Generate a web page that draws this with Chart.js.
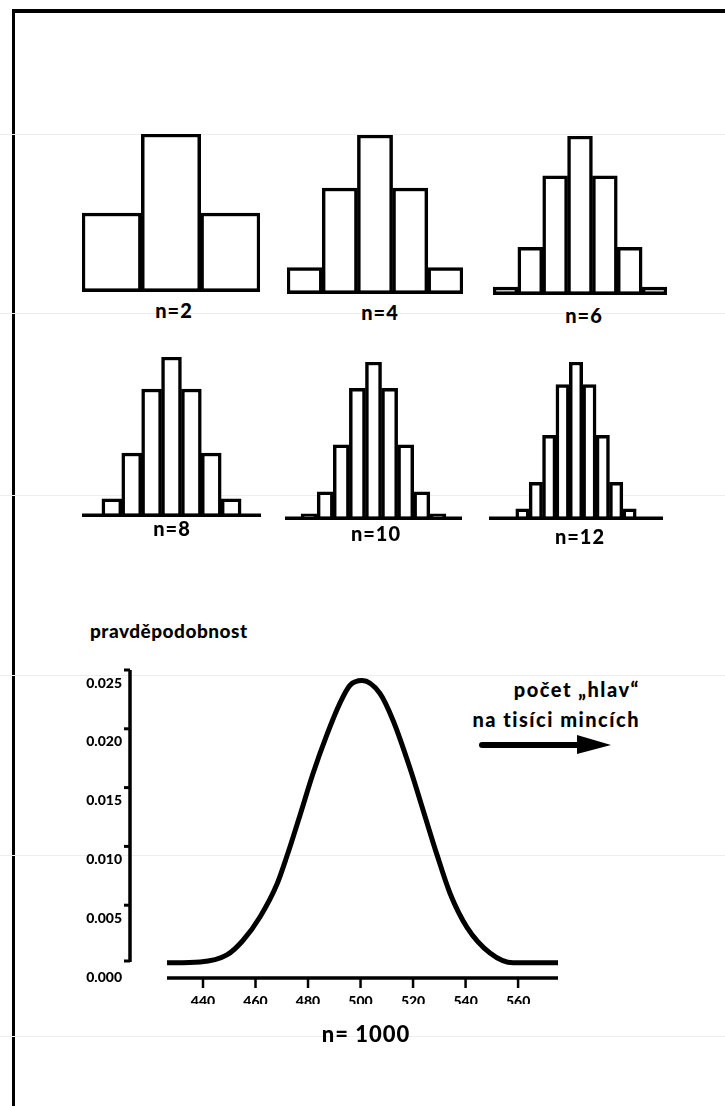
<!DOCTYPE html>
<html>
<head>
<meta charset="utf-8">
<script src="https://cdn.jsdelivr.net/npm/chart.js@4"></script>
<style>
    html, body { margin: 0; padding: 0; background: #fff; }
    body { width: 725px; height: 1106px; position: relative; overflow: hidden; font-family: Lato, "DejaVu Sans", sans-serif; font-weight: 900; color: #000; }
    .frame { position: absolute; left: 12px; top: 9px; width: 740px; height: 1200px; border-left: 3px solid #000; border-top: 4px solid #000; }
    .scan { position: absolute; left: 0; width: 725px; height: 1px; background: #ededed; }
    canvas { position: absolute; }
    .lbl { position: absolute; font-size: 20px; letter-spacing: 1px; transform: translate(-50%, -50%); white-space: nowrap; }
    .txt { position: absolute; font-size: 19px; white-space: nowrap; }
</style>
</head>
<body>
<div class="frame"></div>
<div class="scan" style="top:134px"></div>
<div class="scan" style="top:313px"></div>
<div class="scan" style="top:495px"></div>
<div class="scan" style="top:675px"></div>
<div class="scan" style="top:855px"></div>
<div class="scan" style="top:1036px"></div>

<canvas id="h2" width="178" height="158" style="left:82px;top:134px"></canvas>
<canvas id="h4" width="176" height="159" style="left:287px;top:135px"></canvas>
<canvas id="h6" width="174" height="159" style="left:493px;top:136px"></canvas>
<canvas id="h8" width="179" height="160" style="left:82px;top:357px"></canvas>
<canvas id="h10" width="177" height="158" style="left:285px;top:362px"></canvas>
<canvas id="h12" width="174" height="158" style="left:489px;top:362px"></canvas>

<div class="lbl" style="left:174px;top:310px">n=2</div>
<div class="lbl" style="left:380px;top:312px">n=4</div>
<div class="lbl" style="left:584px;top:315px">n=6</div>
<div class="lbl" style="left:172px;top:528px">n=8</div>
<div class="lbl" style="left:376px;top:533px">n=10</div>
<div class="lbl" style="left:580px;top:536px">n=12</div>

<div class="txt" style="left:90px;top:619px;letter-spacing:0.5px">pravděpodobnost</div>
<div class="txt" style="right:85px;top:674px;text-align:right;font-size:20px;letter-spacing:1.5px;line-height:30px">počet „hlav“<br>na tisíci mincích</div>
<svg style="position:absolute;left:0;top:0" width="725" height="1106">
    <line x1="482" y1="745" x2="585" y2="745" stroke="#000" stroke-width="6" stroke-linecap="round"/>
    <polygon points="577,735 611,745 577,754" fill="#000"/>
</svg>

<canvas id="curve" width="725" height="500" style="left:0;top:600px"></canvas>
<div class="lbl" style="left:366px;top:1033px;font-size:22px">n= 1000</div>

<script>
// počet hlav k pro n hodů (výšky sloupců)
const counts2 = [1, 2, 1];
const counts4 = [1, 4, 6, 4, 1];
const counts6 = [1, 6, 15, 20, 15, 6, 1];
const counts8 = [1, 8, 28, 56, 70, 56, 28, 8, 1];
const counts10 = [1, 10, 45, 120, 210, 252, 210, 120, 45, 10, 1];
const counts12 = [1, 12, 66, 220, 495, 792, 924, 792, 495, 220, 66, 12, 1];

// n = 1000
const hlavy = [426.3, 438.9, 449.1, 455.2, 461.7, 468.2, 472.0, 477.0, 481.9, 487.2, 492.2, 496.0, 500.6, 507.4, 512.4, 518.9, 523.8, 529.1, 534.1, 540.6, 549.3, 558.1, 575.2];
const pravdepodobnost = [0.0001, 0.00017, 0.00077, 0.0020, 0.0040, 0.0068, 0.0092, 0.0127, 0.0162, 0.0195, 0.0222, 0.0237, 0.0241, 0.0230, 0.0207, 0.0166, 0.0131, 0.0093, 0.0060, 0.0031, 0.00094, 0.0001, 0.0001];
const xTicks = [440, 460, 480, 500, 520, 540, 560];
const yTicks = [0, 0.005, 0.010, 0.015, 0.020, 0.025];

const baseline = {
    id: "baseline",
    afterDatasetsDraw(chart) {
        const { ctx, chartArea } = chart;
        ctx.save();
        ctx.strokeStyle = "#000";
        ctx.lineWidth = 3.5;
        ctx.beginPath();
        ctx.moveTo(chartArea.left, chartArea.bottom - 1.75);
        ctx.lineTo(chartArea.right, chartArea.bottom - 1.75);
        ctx.stroke();
        ctx.restore();
    }
};

function histogram(id, counts) {
    new Chart(document.getElementById(id), {
        type: "bar",
        data: {
            labels: counts.map((_, k) => String(k)),
            datasets: [{
                data: counts,
                backgroundColor: "#fff",
                borderColor: "#000",
                borderWidth: 3.5,
                borderSkipped: false,
                barPercentage: 1,
                categoryPercentage: 1
            }]
        },
        options: {
            responsive: false,
            animation: false,
            layout: { padding: 0 },
            plugins: { legend: { display: false }, tooltip: { enabled: false } },
            scales: {
                x: { display: false },
                y: { display: false, min: 0, max: Math.max(...counts) }
            }
        },
        plugins: [baseline]
    });
}

histogram("h2", counts2);
histogram("h4", counts4);
histogram("h6", counts6);
histogram("h8", counts8);
histogram("h10", counts10);
histogram("h12", counts12);

const osy = {
    id: "osy",
    afterDraw(chart) {
        const { ctx, chartArea } = chart;
        const x = chart.scales.x;
        const y = chart.scales.y;
        const osaX = chartArea.bottom + 14;
        ctx.save();
        ctx.strokeStyle = "#000";
        ctx.lineCap = "butt";
        // svislá osa
        ctx.lineWidth = 3.5;
        ctx.beginPath();
        ctx.moveTo(chartArea.left, y.getPixelForValue(0.025));
        ctx.lineTo(chartArea.left, y.getPixelForValue(0) - 2);
        ctx.stroke();
        ctx.lineWidth = 3;
        yTicks.forEach(v => {
            const p = Math.min(y.getPixelForValue(v), y.getPixelForValue(0) - 3);
            ctx.beginPath();
            ctx.moveTo(chartArea.left - 6, p);
            ctx.lineTo(chartArea.left, p);
            ctx.stroke();
        });
        // vodorovná osa
        ctx.lineWidth = 3.5;
        ctx.beginPath();
        ctx.moveTo(x.getPixelForValue(hlavy[0]), osaX);
        ctx.lineTo(chartArea.right, osaX);
        ctx.stroke();
        ctx.lineWidth = 2.5;
        xTicks.forEach(v => {
            const p = x.getPixelForValue(v);
            ctx.beginPath();
            ctx.moveTo(p, osaX);
            ctx.lineTo(p, osaX + 10);
            ctx.stroke();
        });
        ctx.restore();
    }
};

new Chart(document.getElementById("curve"), {
    type: "scatter",
    data: {
        datasets: [{
            data: hlavy.map((h, i) => ({ x: h, y: pravdepodobnost[i] })),
            showLine: true,
            borderColor: "#000",
            borderWidth: 5,
            pointRadius: 0,
            cubicInterpolationMode: "monotone",
            clip: false
        }]
    },
    options: {
        responsive: false,
        animation: false,
        layout: { padding: { left: 0, top: 70, right: 167, bottom: 96 } },
        plugins: { legend: { display: false }, tooltip: { enabled: false } },
        scales: {
            x: {
                type: "linear",
                min: 412.2,
                max: 575.2,
                afterFit: s => { s.height = 40; },
                afterBuildTicks: s => { s.ticks = xTicks.map(v => ({ value: v })); },
                grid: { display: false, drawTicks: false },
                border: { display: false },
                ticks: { color: "#000", padding: 29, font: { family: "Lato", weight: "900", size: 14 } }
            },
            y: {
                min: 0,
                max: 0.025,
                afterFit: s => { s.width = 130; },
                afterBuildTicks: s => { s.ticks = yTicks.map(v => ({ value: v })); },
                grid: { display: false, drawTicks: false },
                border: { display: false },
                ticks: {
                    color: "#000",
                    padding: 8,
                    labelOffset: 13,
                    font: { family: "Lato", weight: "900", size: 14 },
                    callback: v => Number(v).toFixed(3)
                }
            }
        }
    },
    plugins: [osy]
});
</script>
</body>
</html>
